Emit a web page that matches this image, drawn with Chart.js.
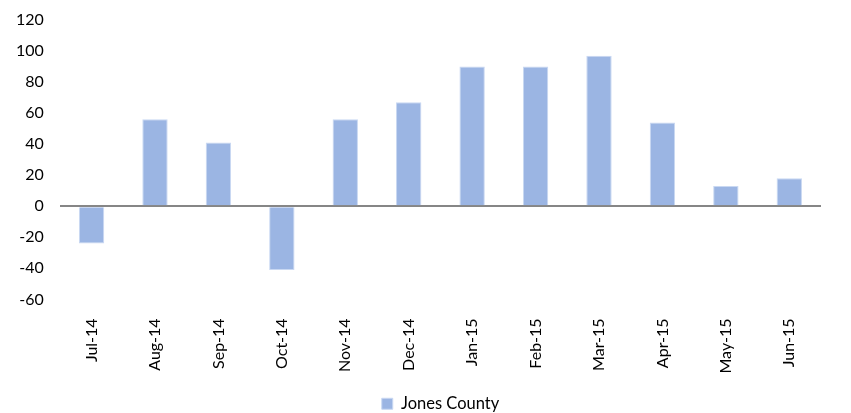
<!DOCTYPE html>
<html>
<head>
<meta charset="utf-8">
<script src="https://cdn.jsdelivr.net/npm/chart.js@4/dist/chart.umd.min.js"></script>
<style>
  html, body { margin: 0; padding: 0; background: #fff; }
  #wrap { width: 851px; height: 413px; }
</style>
</head>
<body>
<div id="wrap"><canvas id="chart"></canvas></div>
<script>
const months = ["Jul-14", "Aug-14", "Sep-14", "Oct-14", "Nov-14", "Dec-14",
  "Jan-15", "Feb-15", "Mar-15", "Apr-15", "May-15", "Jun-15"]
const jonesCounty = [-24, 56, 41, -41, 56, 67, 90, 90, 97, 54, 13, 18]
const yTicks = [-60, -40, -20, 0, 20, 40, 60, 80, 100, 120]

const font = "Lato, 'Open Sans', sans-serif"

// legend sits a bit right of centre in the original
const legendShift = {
  id: 'legendShift',
  afterLayout(chart) {
    chart.legend.left += 30
    chart.legend.right += 30
  }
}

new Chart(document.getElementById('chart').getContext('2d'), {
  type: 'bar',
  data: {
    labels: months,
    datasets: [{
      label: 'Jones County',
      data: jonesCounty,
      backgroundColor: '#9BB5E3',
      borderColor: '#C9D8F2',
      borderWidth: 1,
      categoryPercentage: 1,
      barPercentage: 0.4
    }]
  },
  plugins: [legendShift],
  options: {
    responsive: true,
    maintainAspectRatio: false,
    animation: false,
    layout: { padding: { top: 20, right: 30, left: 0, bottom: -9 } },
    scales: {
      x: {
        grid: { display: false },
        border: { display: false },
        afterFit: axis => { axis.height += 10; axis.paddingTop = 0 },
        ticks: {
          color: '#000',
          font: { family: font, size: 16 },
          minRotation: 90,
          maxRotation: 90,
          padding: 11
        }
      },
      y: {
        min: yTicks[0],
        max: yTicks[yTicks.length - 1],
        afterBuildTicks: axis => { axis.ticks = yTicks.map(v => ({ value: v })) },
        afterFit: axis => { axis.paddingTop = 0; axis.paddingBottom = 0 },
        border: { display: false },
        grid: {
          drawTicks: false,
          color: ctx => ctx.tick && ctx.tick.value === 0 ? '#868686' : 'rgba(0,0,0,0)',
          lineWidth: ctx => ctx.tick && ctx.tick.value === 0 ? 2 : 0
        },
        ticks: {
          color: '#000',
          font: { family: font, size: 16 },
          padding: 16
        }
      }
    },
    plugins: {
      tooltip: { enabled: false },
      legend: {
        position: 'bottom',
        labels: {
          color: '#000',
          font: { family: font, size: 16.5 },
          boxWidth: 11,
          boxHeight: 11,
          padding: 1
        }
      }
    }
  }
})
</script>
</body>
</html>
